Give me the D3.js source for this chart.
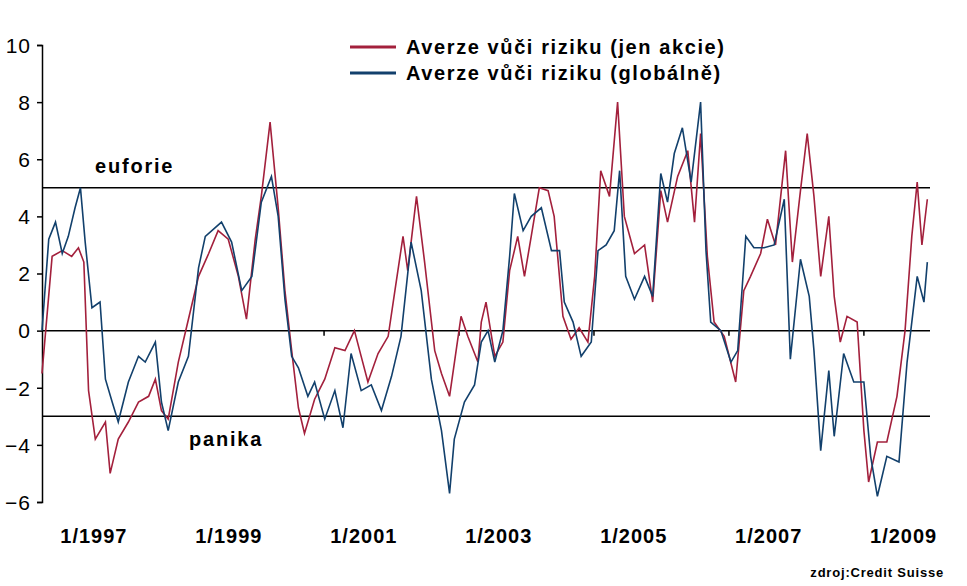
<!DOCTYPE html>
<html>
<head>
<meta charset="utf-8">
<script src="https://cdn.jsdelivr.net/npm/d3@7"></script>
<style>
  body { margin: 0; background: #fff; }
  text { font-family: "Liberation Sans", Arial, sans-serif; }
</style>
</head>
<body>
<svg id="chart" width="967" height="586"></svg>
<script>
// Averze vůči riziku (jen akcie) – date (decimal year) and value
const redDates = [1996.32,1996.47,1996.62,1996.76,1996.86,1996.94,1997.01,1997.11,1997.26,1997.33,1997.45,1997.60,1997.75,1997.90,1998.00,1998.09,1998.19,1998.34,1998.49,1998.64,1998.79,1998.93,1999.08,1999.23,1999.35,1999.48,1999.57,1999.70,1999.82,1999.92,2000.02,2000.12,2000.21,2000.36,2000.51,2000.66,2000.81,2000.95,2001.05,2001.15,2001.30,2001.45,2001.55,2001.67,2001.74,2001.87,2001.99,2002.14,2002.24,2002.36,2002.53,2002.63,2002.78,
  2002.83,2002.90,2003.03,2003.15,2003.25,2003.37,2003.47,2003.57,2003.69,2003.82,2003.91,2004.04,2004.16,2004.28,2004.41,2004.51,2004.60,2004.73,2004.85,2004.95,2005.10,2005.25,2005.37,2005.49,2005.59,2005.74,2005.89,2005.99,2006.08,2006.18,2006.28,2006.43,2006.60,2006.72,2006.82,2006.97,2007.07,2007.19,2007.34,2007.44,2007.56,2007.66,2007.76,2007.86,2007.98,2008.06,2008.15,2008.25,2008.40,2008.50,2008.57,2008.70,2008.84,2008.99,2009.11,2009.21,2009.29,2009.36,2009.44];
const redValues = [-1.5,2.6,2.8,2.6,2.9,2.4,-2.1,-3.8,-3.2,-5.0,-3.8,-3.2,-2.5,-2.3,-1.7,-2.8,-3.1,-1.1,0.4,1.9,2.7,3.5,3.2,1.9,0.4,3.2,4.7,7.3,4.3,1.4,-0.7,-2.7,-3.6,-2.4,-1.7,-0.6,-0.7,0.0,-0.9,-1.8,-0.8,-0.2,1.4,3.3,2.1,4.7,2.4,-0.7,-1.5,-2.3,0.5,-0.2,-1.1,
  0.3,1.0,-0.9,-0.4,2.1,3.3,1.9,3.3,5.0,4.9,4.0,0.5,-0.3,0.1,-0.4,1.9,5.6,4.7,8.0,4.0,2.7,3.0,1.0,4.9,3.8,5.4,6.3,3.8,6.9,2.6,0.3,-0.2,-1.8,1.4,1.9,2.7,3.9,3.0,6.3,2.4,4.9,6.9,4.7,1.9,4.0,1.2,-0.4,0.5,0.3,-3.5,-5.3,-3.9,-3.9,-2.3,0.0,3.3,5.2,3.0,4.6];

// Averze vůči riziku (globálně)
const blueDates = [1996.32,1996.42,1996.52,1996.62,1996.71,1996.81,1996.89,1996.96,1997.06,1997.18,1997.26,1997.36,1997.45,1997.60,1997.75,1997.85,1998.00,1998.09,1998.19,1998.34,1998.49,1998.64,1998.74,1998.98,1999.13,1999.28,1999.43,1999.57,1999.72,1999.82,1999.92,2000.02,2000.12,2000.26,2000.36,2000.51,2000.66,2000.78,2000.90,2001.05,2001.20,2001.35,2001.50,2001.64,2001.79,2001.94,2002.09,2002.24,2002.36,2002.43,2002.58,2002.73,
  2002.83,2002.93,2003.03,2003.15,2003.25,2003.32,2003.45,2003.57,2003.72,2003.87,2003.99,2004.06,2004.19,2004.31,2004.46,2004.56,2004.68,2004.80,2004.88,2004.97,2005.10,2005.25,2005.37,2005.49,2005.59,2005.69,2005.81,2005.94,2006.08,2006.16,2006.23,2006.38,2006.53,2006.63,2006.75,2006.87,2007.02,2007.17,2007.32,2007.41,2007.56,2007.69,2007.76,2007.86,2007.98,2008.06,2008.20,2008.35,2008.50,2008.60,2008.70,2008.84,2009.02,2009.14,2009.29,2009.39,2009.44];
const blueValues = [0.0,3.2,3.8,2.7,3.3,4.3,5.0,3.1,0.8,1.0,-1.7,-2.5,-3.2,-1.8,-0.9,-1.1,-0.4,-2.5,-3.5,-1.8,-0.9,2.2,3.3,3.8,3.1,1.4,1.9,4.5,5.4,4.0,1.1,-0.9,-1.3,-2.3,-1.8,-3.1,-2.1,-3.4,-0.8,-2.1,-1.9,-2.8,-1.6,-0.2,3.1,1.4,-1.7,-3.5,-5.7,-3.8,-2.5,-1.9,
  -0.4,0.0,-1.1,0.0,2.6,4.8,3.5,4.0,4.3,2.8,2.8,1.0,0.3,-0.9,-0.4,2.8,3.0,3.5,5.6,1.9,1.1,1.9,1.2,5.5,4.5,6.2,7.1,5.2,8.0,2.8,0.3,0.0,-1.1,-0.7,3.3,2.9,2.9,3.0,4.6,-1.0,2.5,1.2,-0.7,-4.2,-1.4,-3.7,-0.8,-1.8,-1.8,-4.4,-5.8,-4.4,-4.6,-1.1,1.9,1.0,2.4];

const yTicks = [-6,-4,-2,0,2,4,6,8,10];
const xTicks = [1997,1999,2001,2003,2005,2007,2009];
const xTickLabels = ["1/1997","1/1999","1/2001","1/2003","1/2005","1/2007","1/2009"];
const refLines = [5,0,-3];
const legendLabels = ["Averze vůči riziku (jen akcie)","Averze vůči riziku (globálně)"];
const colors = ["#a3203c","#12406c"];

const svg = d3.select("#chart");
const x = d3.scaleLinear().domain([1996.32, 2009.45]).range([42, 928]);
const y = d3.scaleLinear().domain([-6, 10]).range([502, 45]);

// Y axis
const yAxis = svg.append("g").attr("transform", "translate(42,0)")
  .call(d3.axisLeft(y).tickValues(yTicks).tickSize(5).tickPadding(6));
yAxis.select(".domain").attr("stroke", "#000").attr("stroke-width", 1.5);
yAxis.selectAll("line").attr("stroke", "#000").attr("stroke-width", 1.5);
yAxis.selectAll("text").attr("font-size", 21).attr("fill", "#000")
  .attr("letter-spacing", 1).attr("dy", "0.35em")
  .style("font-family", "Liberation Sans, Arial, sans-serif");

// Reference lines
svg.selectAll(".ref").data(refLines).enter().append("line")
  .attr("x1", 42).attr("x2", 930)
  .attr("y1", d => y(d)).attr("y2", d => y(d))
  .attr("stroke", "#000").attr("stroke-width", 1.5);

// small ticks on zero line
svg.selectAll(".zt").data([2000.5, 2002.5, 2004.5, 2006.5, 2008.5]).enter().append("line")
  .attr("x1", d => x(d)).attr("x2", d => x(d))
  .attr("y1", y(0)).attr("y2", y(0) + 5)
  .attr("stroke", "#000").attr("stroke-width", 1.5);

// Lines
const line = d3.line().x(d => x(d[0])).y(d => y(d[1]));
const series = [
  d3.zip(redDates, redValues),
  d3.zip(blueDates, blueValues)
];
svg.append("path").datum(series[0]).attr("d", line)
  .attr("fill", "none").attr("stroke", colors[0]).attr("stroke-width", 1.6);
svg.append("path").datum(series[1]).attr("d", line)
  .attr("fill", "none").attr("stroke", colors[1]).attr("stroke-width", 1.6);

// X labels
svg.selectAll(".xl").data(xTicks).enter().append("text")
  .attr("x", (d, i) => x(d) + 6).attr("y", 543)
  .attr("text-anchor", "middle").attr("font-size", 20).attr("font-weight", "bold")
  .attr("letter-spacing", 1)
  .text((d, i) => xTickLabels[i]);

// Legend
legendLabels.forEach((t, i) => {
  const ly = 47 + i * 26;
  svg.append("line").attr("x1", 350).attr("x2", 396).attr("y1", ly).attr("y2", ly)
    .attr("stroke", colors[i]).attr("stroke-width", 3);
  svg.append("text").attr("x", 406).attr("y", ly + 7)
    .attr("font-size", 20).attr("font-weight", "bold").attr("letter-spacing", 1.6).text(t);
});

// Annotations
svg.append("text").attr("x", 95).attr("y", 173).attr("font-size", 20).attr("font-weight", "bold").attr("letter-spacing", 1.8).text("euforie");
svg.append("text").attr("x", 189).attr("y", 446).attr("font-size", 20).attr("font-weight", "bold").attr("letter-spacing", 1.8).text("panika");
svg.append("text").attr("x", 944).attr("y", 577).attr("text-anchor", "end")
  .attr("font-size", 13).attr("font-weight", "bold").attr("letter-spacing", 0.8).text("zdroj:Credit Suisse");
</script>
</body>
</html>
